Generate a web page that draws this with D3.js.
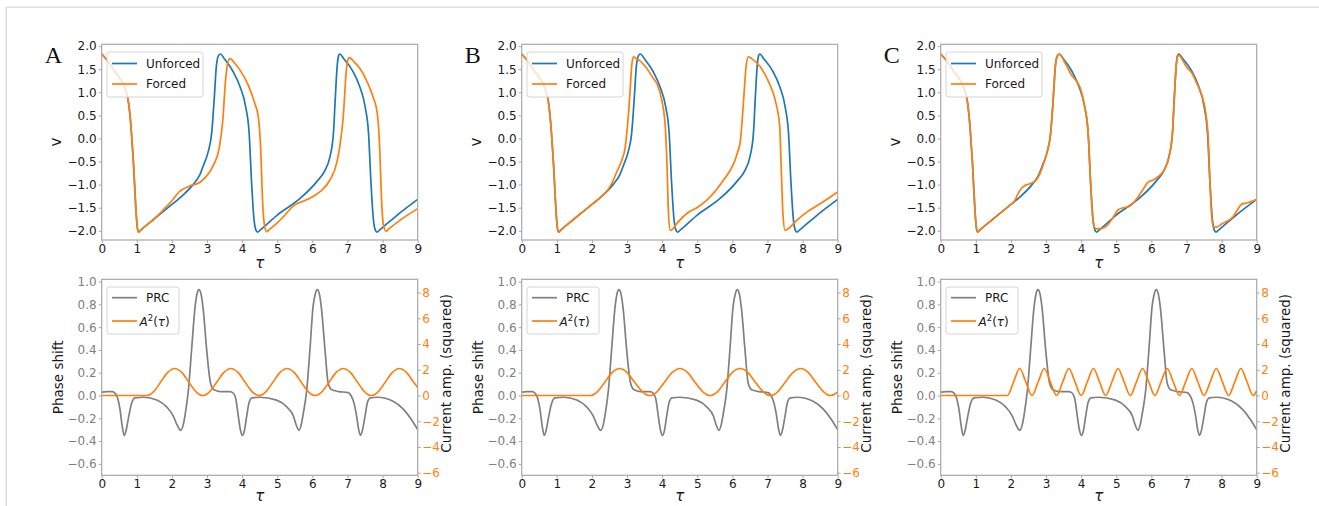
<!DOCTYPE html>
<html>
<head>
<meta charset="utf-8">
<script src="https://cdn.jsdelivr.net/npm/d3@7"></script>
<style>
  html, body { margin: 0; padding: 0; background: #fff; }
</style>
</head>
<body>
<svg id="fig" width="1319" height="506" font-family="DejaVu Sans, sans-serif"></svg>
<script>
// ---- tick values ----
const tauTicks = [0, 1, 2, 3, 4, 5, 6, 7, 8, 9];
const vTicks = [-2.0, -1.5, -1.0, -0.5, 0.0, 0.5, 1.0, 1.5, 2.0];
const phaseTicks = [-0.6, -0.4, -0.2, 0.0, 0.2, 0.4, 0.6, 0.8, 1.0];
const ampTicks = [-6, -4, -2, 0, 2, 4, 6, 8];
const panelLetters = ["A", "B", "C"];

// ---- membrane variable v(τ) without forcing: [τ, v] ----
const unforced = [
  [0,1.83],[0.15,1.7],[0.35,1.48],[0.5,1.32],[0.62,1.17],[0.7,1.0],[0.76,0.8],[0.8,0.55],[0.84,0.2],
  [0.9,-0.47],[0.97,-1.48],[1.01,-1.9],[1.05,-2.03],[1.12,-1.98],[1.5,-1.74],[2.0,-1.43],[2.3,-1.24],
  [2.6,-1.0],[2.8,-0.78],[2.9,-0.58],[3.04,-0.27],[3.13,0.1],[3.2,0.8],[3.27,1.6],[3.33,1.8],[3.38,1.83],
  [3.5,1.72],[3.75,1.44],[3.94,1.12],[4.1,0.69],[4.2,0.11],[4.27,-0.97],[4.34,-1.77],[4.39,-1.98],
  [4.44,-2.03],[4.52,-1.98],[5.0,-1.66],[5.65,-1.3],[6.12,-0.94],[6.36,-0.69],[6.5,-0.4],[6.6,0.11],
  [6.65,0.83],[6.71,1.6],[6.75,1.8],[6.78,1.83],[6.9,1.72],[7.15,1.46],[7.34,1.14],[7.5,0.7],[7.6,0.11],
  [7.67,-0.97],[7.74,-1.77],[7.79,-1.98],[7.84,-2.03],[7.92,-1.98],[8.4,-1.67],[9,-1.32]
];

// ---- forced responses, one per forcing protocol ----
const forcedA = [
  [0,1.83],[0.15,1.7],[0.35,1.48],[0.5,1.32],[0.62,1.17],[0.7,1.0],[0.76,0.8],[0.8,0.55],[0.84,0.2],
  [0.9,-0.47],[0.97,-1.48],[1.01,-1.9],[1.05,-2.03],[1.12,-1.98],[1.5,-1.74],[1.75,-1.55],[2.0,-1.35],
  [2.2,-1.16],[2.5,-1.03],[2.8,-0.95],[3.0,-0.8],[3.2,-0.55],[3.35,-0.2],[3.45,0.4],[3.52,1.19],[3.58,1.6],
  [3.65,1.73],[3.8,1.62],[3.94,1.48],[4.17,1.16],[4.36,0.76],[4.46,0.47],[4.53,-0.25],[4.58,-1.33],
  [4.64,-1.9],[4.7,-2.02],[4.78,-1.97],[5.0,-1.83],[5.17,-1.7],[5.46,-1.46],[5.83,-1.33],[6.21,-1.16],
  [6.5,-0.9],[6.69,-0.54],[6.78,-0.18],[6.88,0.47],[6.97,1.5],[7.02,1.72],[7.05,1.75],[7.2,1.65],
  [7.35,1.52],[7.54,1.26],[7.73,0.9],[7.85,0.54],[7.92,-0.25],[7.97,-1.33],[8.03,-1.9],[8.1,-2.01],
  [8.18,-1.96],[8.5,-1.77],[9,-1.52]
];
const forcedB = [
  [0,1.83],[0.15,1.7],[0.35,1.48],[0.5,1.32],[0.62,1.17],[0.7,1.0],[0.76,0.8],[0.8,0.55],[0.84,0.2],
  [0.9,-0.47],[0.97,-1.48],[1.01,-1.9],[1.05,-2.03],[1.12,-1.98],[1.5,-1.74],[2.0,-1.43],[2.3,-1.24],
  [2.45,-1.12],[2.6,-0.92],[2.71,-0.72],[2.85,-0.47],[2.95,-0.18],[3.01,0.25],[3.07,0.83],[3.14,1.62],
  [3.18,1.77],[3.25,1.74],[3.37,1.68],[3.56,1.52],[3.75,1.3],[3.85,1.19],[3.99,0.83],[4.09,0.25],
  [4.14,-0.61],[4.18,-1.62],[4.23,-1.99],[4.28,-1.98],[4.42,-1.84],[4.71,-1.62],[4.99,-1.5],[5.28,-1.33],
  [5.75,-0.9],[6.04,-0.54],[6.15,-0.3],[6.23,-0.04],[6.32,0.83],[6.4,1.62],[6.46,1.77],[6.55,1.73],
  [6.8,1.55],[7.03,1.23],[7.22,0.83],[7.35,0.25],[7.39,-0.61],[7.44,-1.62],[7.5,-1.99],[7.56,-1.97],
  [7.84,-1.77],[8.13,-1.59],[8.51,-1.41],[9,-1.16]
];
const forcedC = [
  [0,1.83],[0.15,1.7],[0.35,1.48],[0.5,1.32],[0.62,1.17],[0.7,1.0],[0.76,0.8],[0.8,0.55],[0.84,0.2],
  [0.9,-0.47],[0.97,-1.48],[1.01,-1.9],[1.05,-2.03],[1.12,-1.98],[1.5,-1.74],[2.0,-1.43],[2.1,-1.36],
  [2.2,-1.2],[2.3,-1.08],[2.4,-1.02],[2.55,-0.98],[2.7,-0.92],[2.85,-0.72],[2.95,-0.5],[3.04,-0.27],
  [3.13,0.1],[3.2,0.8],[3.27,1.6],[3.33,1.8],[3.38,1.82],[3.5,1.7],[3.6,1.55],[3.72,1.38],[3.85,1.26],
  [3.98,1.08],[4.1,0.69],[4.2,0.11],[4.27,-0.97],[4.33,-1.7],[4.38,-1.93],[4.45,-1.96],[4.6,-1.95],
  [4.75,-1.88],[4.9,-1.72],[5.05,-1.55],[5.2,-1.5],[5.35,-1.48],[5.55,-1.34],[5.75,-1.12],[5.9,-0.95],
  [6.05,-0.9],[6.2,-0.82],[6.36,-0.69],[6.5,-0.4],[6.6,0.11],[6.65,0.83],[6.71,1.6],[6.75,1.78],
  [6.79,1.8],[6.9,1.68],[7.0,1.55],[7.15,1.42],[7.3,1.18],[7.45,0.9],[7.55,0.55],[7.62,0.0],
  [7.67,-0.97],[7.72,-1.7],[7.77,-1.92],[7.85,-1.92],[8.03,-1.84],[8.32,-1.7],[8.45,-1.55],
  [8.56,-1.43],[8.7,-1.4],[8.8,-1.38],[9,-1.32]
];

// ---- phase response curve (phase shift vs τ) ----
const prc = [
  [0,0.03],[0.15,0.035],[0.3,0.035],[0.38,0.02],[0.45,-0.02],[0.52,-0.12],[0.58,-0.26],[0.64,-0.35],
  [0.7,-0.3],[0.76,-0.2],[0.85,-0.07],[0.95,-0.02],[1.2,-0.015],[1.57,-0.04],[1.85,-0.1],[2.04,-0.18],
  [2.15,-0.26],[2.25,-0.305],[2.32,-0.26],[2.38,-0.16],[2.47,0.05],[2.56,0.4],[2.66,0.78],[2.72,0.9],
  [2.77,0.93],[2.83,0.89],[2.89,0.76],[2.99,0.4],[3.1,0.11],[3.2,0.05],[3.37,0.035],[3.65,0.035],
  [3.75,0.02],[3.82,-0.03],[3.89,-0.18],[3.95,-0.3],[4.01,-0.35],[4.07,-0.3],[4.13,-0.18],[4.2,-0.06],
  [4.28,-0.02],[4.5,-0.015],[4.98,-0.04],[5.27,-0.1],[5.46,-0.18],[5.53,-0.25],[5.62,-0.305],
  [5.68,-0.26],[5.74,-0.16],[5.84,0.05],[5.93,0.4],[6.02,0.78],[6.09,0.9],[6.14,0.93],[6.2,0.89],
  [6.26,0.76],[6.36,0.4],[6.45,0.11],[6.55,0.05],[6.75,0.035],[7.02,0.025],[7.1,0.0],[7.18,-0.06],
  [7.26,-0.18],[7.32,-0.3],[7.37,-0.35],[7.43,-0.3],[7.5,-0.18],[7.57,-0.06],[7.65,-0.02],
  [7.85,-0.015],[8.3,-0.05],[8.59,-0.12],[8.82,-0.21],[9,-0.3]
];

// ---- squared forcing current amplitude A²(τ) ----
const ampA = [
  [0,0],[1.28,0],[1.48,0.31],[1.68,1.05],[1.88,1.79],[2.08,2.1],[2.28,1.79],[2.48,1.05],[2.68,0.31],
  [2.88,0],[3.08,0.31],[3.28,1.05],[3.48,1.79],[3.68,2.1],[3.88,1.79],[4.08,1.05],[4.28,0.31],
  [4.48,0],[4.68,0.31],[4.88,1.05],[5.08,1.79],[5.28,2.1],[5.48,1.79],[5.68,1.05],[5.88,0.31],
  [6.08,0],[6.28,0.31],[6.48,1.05],[6.68,1.79],[6.88,2.1],[7.08,1.79],[7.28,1.05],[7.48,0.31],
  [7.68,0],[7.88,0.31],[8.08,1.05],[8.28,1.79],[8.48,2.1],[8.68,1.79],[8.88,1.05],[9,0.62]
];
const ampB = [
  [0,0],[1.95,0],[2.16,0.31],[2.37,1.05],[2.58,1.79],[2.79,2.1],[3.0,1.79],[3.21,1.05],[3.43,0.31],
  [3.64,0],[3.86,0.31],[4.07,1.05],[4.29,1.79],[4.5,2.1],[4.72,1.79],[4.93,1.05],[5.15,0.31],
  [5.36,0],[5.58,0.31],[5.79,1.05],[6.0,1.79],[6.22,2.1],[6.44,1.79],[6.65,1.05],[6.87,0.31],
  [7.08,0],[7.3,0.31],[7.51,1.05],[7.73,1.79],[7.94,2.1],[8.16,1.79],[8.37,1.05],[8.59,0.31],
  [8.8,0],[9,0.27]
];
const ampC = [
  [0,0],[1.9,0],[2.075,1.05],[2.25,2.1],[2.425,1.05],[2.6,0],[2.775,1.05],[2.95,2.1],[3.125,1.05],
  [3.3,0],[3.475,1.05],[3.65,2.1],[3.825,1.05],[4.0,0],[4.175,1.05],[4.35,2.1],[4.525,1.05],
  [4.7,0],[4.875,1.05],[5.05,2.1],[5.225,1.05],[5.4,0],[5.575,1.05],[5.75,2.1],[5.925,1.05],
  [6.1,0],[6.275,1.05],[6.45,2.1],[6.625,1.05],[6.8,0],[6.975,1.05],[7.15,2.1],[7.325,1.05],
  [7.5,0],[7.675,1.05],[7.85,2.1],[8.025,1.05],[8.2,0],[8.375,1.05],[8.55,2.1],[8.725,1.05],
  [8.9,0],[9,0.35]
];

// ---- figure layout ----
const BLUE = "#1f77b4", ORANGE = "#ff7f0e", GREY = "#808080";
const SPINE = "#a8a8a8", TEXT = "#1a1a1a";
const panelLeft = [101.7, 521.7, 940.7];
const plotW = 316;
const topBox = { y0: 44.3, y1: 240 };
const botBox = { y0: 279.3, y1: 475.3 };
const forcedSets = [forcedA, forcedB, forcedC];
const ampSets = [ampA, ampB, ampC];
const LW = 1.7;

const svg = d3.select("#fig");

// outer frame of the figure
svg.append("line").attr("x1", 6.3).attr("x2", 1319).attr("y1", 7.3).attr("y2", 7.3)
  .attr("stroke", "#dcdcdc").attr("stroke-width", 1.5);
svg.append("line").attr("x1", 6.3).attr("x2", 6.3).attr("y1", 7.3).attr("y2", 506)
  .attr("stroke", "#dcdcdc").attr("stroke-width", 1.5);

function styleAxis(g, color) {
  g.attr("font-family", null).attr("font-size", null);
  g.select(".domain").remove();
  g.selectAll(".tick line").attr("stroke", SPINE).attr("stroke-width", 1);
  g.selectAll(".tick text").attr("fill", color).attr("font-size", 12);
}

function frame(g, x0, x1, y0, y1) {
  g.append("rect").attr("x", x0).attr("y", y0).attr("width", x1 - x0).attr("height", y1 - y0)
    .attr("fill", "none").attr("stroke", SPINE).attr("stroke-width", 1.2);
}

function legendBox(g, x, y, w, h) {
  g.append("rect").attr("x", x).attr("y", y).attr("width", w).attr("height", h).attr("rx", 2.5)
    .attr("fill", "#fff").attr("fill-opacity", 0.8).attr("stroke", "#d4d4d4").attr("stroke-width", 1);
}

function tauLabel(g, cx, y) {
  g.append("text").attr("x", cx).attr("y", y).attr("text-anchor", "middle")
    .attr("font-size", 15).attr("font-style", "italic").attr("fill", TEXT).text("τ");
}

panelLetters.forEach((letter, i) => {
  const left = panelLeft[i];
  const right = left + plotW;
  const g = svg.append("g");

  const x = d3.scaleLinear().domain([0, 9]).range([left, right]);
  const yV = d3.scaleLinear().domain([-2.2, 2.04]).range([topBox.y1, topBox.y0]);
  const yP = d3.scaleLinear().domain([-0.7, 1.02]).range([botBox.y1, botBox.y0]);
  const yA = d3.scaleLinear().domain([-6.2, 9.03]).range([botBox.y1, botBox.y0]);

  const lineV = d3.line().x(d => x(d[0])).y(d => yV(d[1])).curve(d3.curveMonotoneX);
  const lineP = d3.line().x(d => x(d[0])).y(d => yP(d[1])).curve(d3.curveMonotoneX);
  const lineA = d3.line().x(d => x(d[0])).y(d => yA(d[1])).curve(d3.curveMonotoneX);

  // panel letter
  g.append("text").attr("x", left - 57).attr("y", 63)
    .attr("font-family", "Liberation Serif, Times New Roman, serif")
    .attr("font-size", 24).attr("fill", "#111").text(letter);

  // ===== upper axes: voltage traces =====
  g.append("path").datum(unforced).attr("d", lineV).attr("fill", "none")
    .attr("stroke", BLUE).attr("stroke-width", LW);
  g.append("path").datum(forcedSets[i]).attr("d", lineV).attr("fill", "none")
    .attr("stroke", ORANGE).attr("stroke-width", LW);

  frame(g, left, right, topBox.y0, topBox.y1);
  g.append("g").attr("transform", `translate(0,${topBox.y1})`)
    .call(d3.axisBottom(x).tickValues(tauTicks).tickFormat(d3.format("d")).tickSize(3).tickPadding(1.5))
    .call(a => styleAxis(a, TEXT));
  g.append("g").attr("transform", `translate(${left},0)`)
    .call(d3.axisLeft(yV).tickValues(vTicks).tickFormat(d3.format(".1f")).tickSize(3).tickPadding(2))
    .call(a => styleAxis(a, TEXT));

  g.append("text").attr("transform", `translate(${left - 41},${(topBox.y0 + topBox.y1) / 2}) rotate(-90)`)
    .attr("text-anchor", "middle").attr("font-size", 15).attr("fill", TEXT).text("v");
  tauLabel(g, (left + right) / 2, 268);

  // legend of the upper axes
  const lx = left + 5.3;
  legendBox(g, lx, 52, 96, 45);
  [[BLUE, "Unforced", 63.5], [ORANGE, "Forced", 84]].forEach(([c, t, yy]) => {
    g.append("line").attr("x1", lx + 5).attr("x2", lx + 30).attr("y1", yy).attr("y2", yy)
      .attr("stroke", c).attr("stroke-width", LW);
    g.append("text").attr("x", lx + 39).attr("y", yy + 4.4).attr("font-size", 12)
      .attr("fill", TEXT).text(t);
  });

  // ===== lower axes: PRC and squared current amplitude =====
  g.append("path").datum(prc).attr("d", lineP).attr("fill", "none")
    .attr("stroke", GREY).attr("stroke-width", LW);
  g.append("path").datum(ampSets[i]).attr("d", lineA).attr("fill", "none")
    .attr("stroke", ORANGE).attr("stroke-width", LW);

  frame(g, left, right, botBox.y0, botBox.y1);
  g.append("g").attr("transform", `translate(0,${botBox.y1})`)
    .call(d3.axisBottom(x).tickValues(tauTicks).tickFormat(d3.format("d")).tickSize(3).tickPadding(1.5))
    .call(a => styleAxis(a, TEXT));
  g.append("g").attr("transform", `translate(${left},0)`)
    .call(d3.axisLeft(yP).tickValues(phaseTicks).tickFormat(d3.format(".1f")).tickSize(3).tickPadding(2))
    .call(a => styleAxis(a, GREY));
  g.append("g").attr("transform", `translate(${right},0)`)
    .call(d3.axisRight(yA).tickValues(ampTicks).tickFormat(d3.format("d")).tickSize(3).tickPadding(1.5))
    .call(a => styleAxis(a, ORANGE));

  g.append("text").attr("transform", `translate(${left - 39},${(botBox.y0 + botBox.y1) / 2}) rotate(-90)`)
    .attr("text-anchor", "middle").attr("font-size", 13.5).attr("fill", TEXT).text("Phase shift");
  g.append("text").attr("transform", `translate(${right + 33},${(botBox.y0 + botBox.y1) / 2 - 4}) rotate(-90)`)
    .attr("text-anchor", "middle").attr("font-size", 13.5).attr("fill", TEXT).text("Current amp. (squared)");
  tauLabel(g, (left + right) / 2, 501);

  // legend of the lower axes
  legendBox(g, lx, 287, 72, 47);
  g.append("line").attr("x1", lx + 5).attr("x2", lx + 30).attr("y1", 297.7).attr("y2", 297.7)
    .attr("stroke", GREY).attr("stroke-width", LW);
  g.append("text").attr("x", lx + 39).attr("y", 302.1).attr("font-size", 12).attr("fill", TEXT).text("PRC");
  g.append("line").attr("x1", lx + 5).attr("x2", lx + 30).attr("y1", 321).attr("y2", 321)
    .attr("stroke", ORANGE).attr("stroke-width", LW);
  const amp = g.append("text").attr("x", lx + 32.5).attr("y", 325.5).attr("font-size", 12).attr("fill", TEXT);
  amp.append("tspan").attr("font-style", "italic").text("A");
  amp.append("tspan").attr("font-size", 8.5).attr("dy", -5).text("2");
  amp.append("tspan").attr("dy", 5).text("(");
  amp.append("tspan").attr("font-style", "italic").text("τ");
  amp.append("tspan").text(")");
});
</script>
</body>
</html>
